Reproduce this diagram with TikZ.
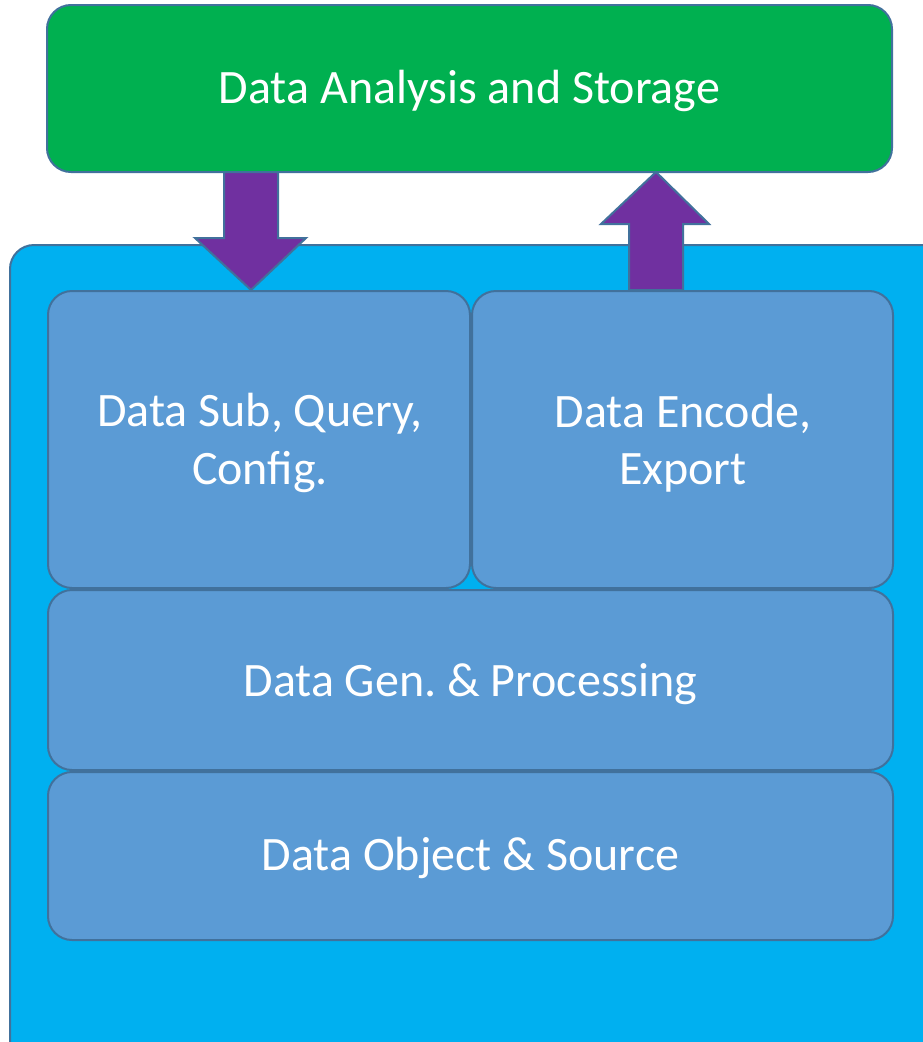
\documentclass[tikz,border=0pt]{standalone}
\usepackage{fontspec}
\setmainfont{Carlito}
\definecolor{gfill}{HTML}{00B050}
\definecolor{bfill}{HTML}{00B0F0}
\definecolor{ifill}{HTML}{5B9BD5}
\definecolor{pfill}{HTML}{7030A0}
\definecolor{edge}{HTML}{41719C}
\frenchspacing
\begin{document}
\begin{tikzpicture}[x=0.75pt,y=-0.75pt,
  box/.style={draw=edge,line width=1.5pt,rounded corners=18pt},
  lbl/.style={text=white,font=\fontsize{36}{43}\selectfont,align=center},
  arr/.style={draw=edge,fill=pfill,line width=1.5pt,line join=miter}]
\useasboundingbox (0,0) rectangle (923,1042);
\begin{scope}
\clip (0,0) rectangle (923,1042);
\draw[box,fill=bfill] (10,245) rectangle (960,1080);
\end{scope}
\draw[box,fill=gfill] (47,5) rectangle (892,172);
\node[lbl] (top) at (469.5,91) {Data Analysis and Storage};
\draw[box,fill=ifill] (48,291) rectangle (470,588);
\node[lbl] (sub) at (260,443) {Data Sub, Query,\\Config.};
\draw[box,fill=ifill] (472,291) rectangle (893,588);
\node[lbl] (enc) at (683,443) {Data Encode,\\Export};
\draw[box,fill=ifill] (48,590) rectangle (893,770);
\node[lbl] (gen) at (470.5,684) {Data Gen. \& Processing};
\draw[box,fill=ifill] (48,772) rectangle (893,940);
\node[lbl] (obj) at (470.5,858) {Data Object \& Source};
% down arrow
\draw[arr] (224,172) -- (278,172) -- (278,238) -- (306,238) -- (251,290) -- (195,238) -- (224,238) -- cycle;
% up arrow
\draw[arr] (656,172) -- (709,224) -- (683,224) -- (683,290) -- (629,290) -- (629,224) -- (601,224) -- cycle;
\end{tikzpicture}
\end{document}
